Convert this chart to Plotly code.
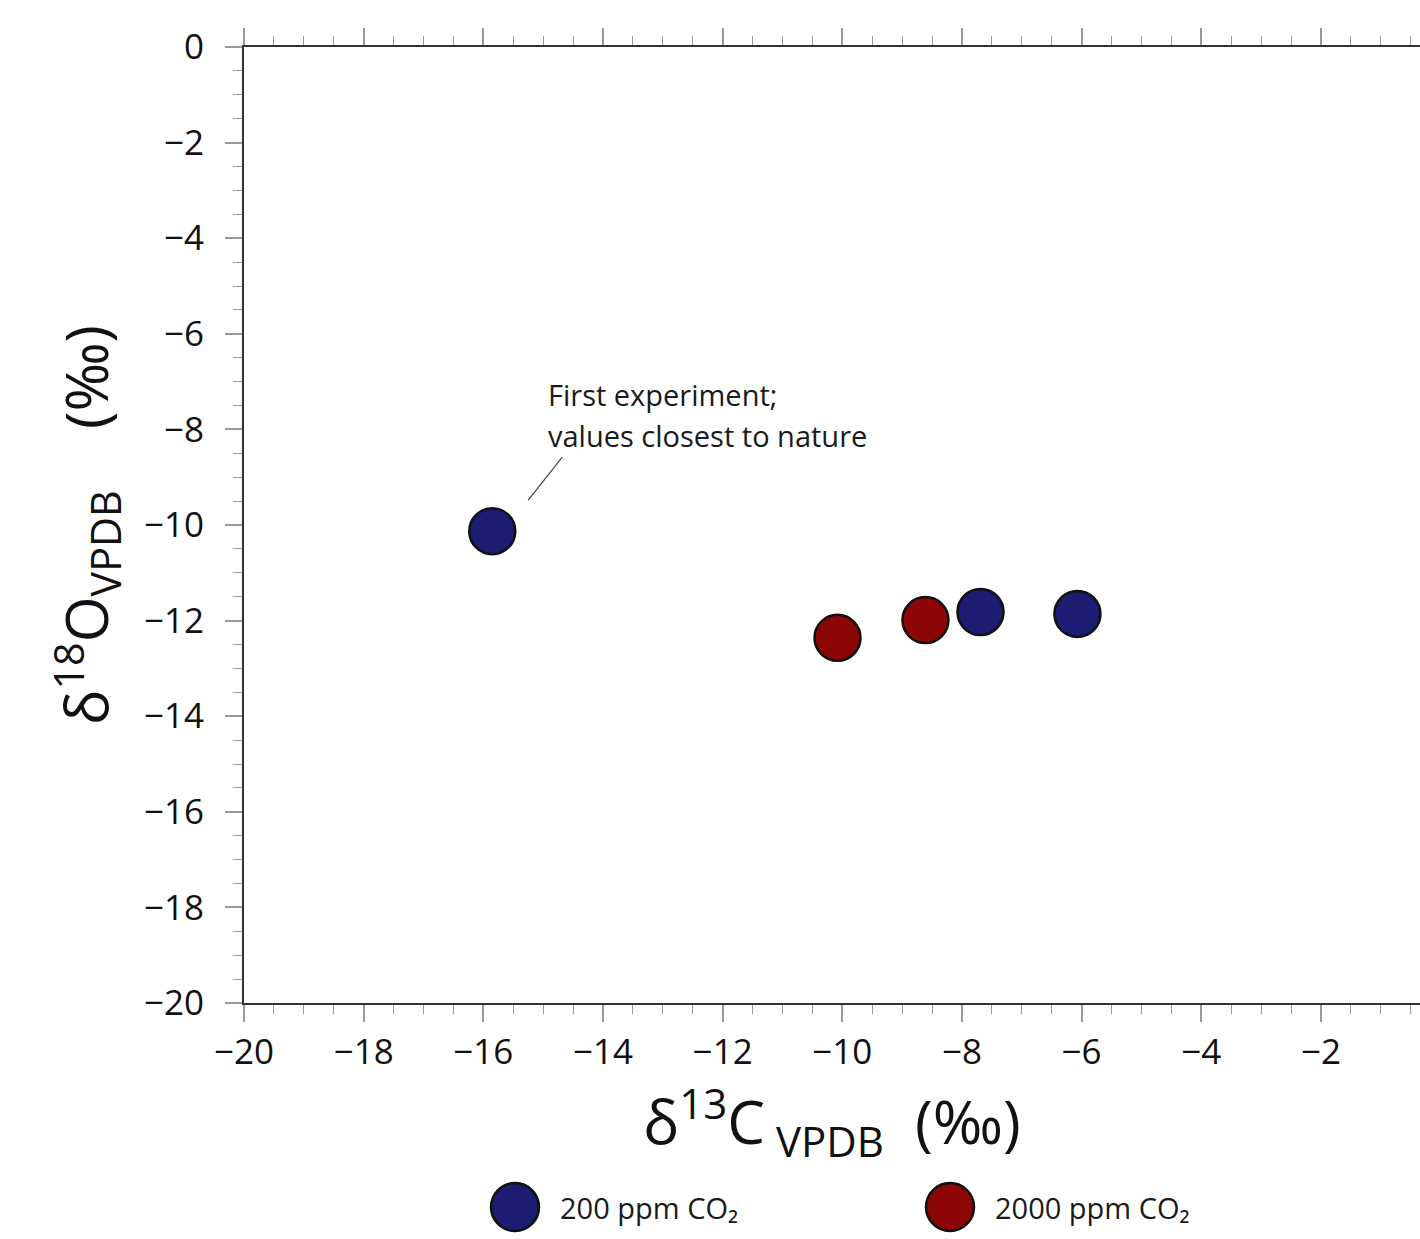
import plotly.graph_objects as go

# Data
series_names = ["200 ppm CO₂", "2000 ppm CO₂"]
series_colors = ["#1b1c72", "#8c0606"]
d13c_200 = [-15.85, -7.69, -6.07]
d18o_200 = [-10.13, -11.82, -11.86]
d13c_2000 = [-10.08, -8.61]
d18o_2000 = [-12.36, -11.99]

x_tickvals = [-20, -18, -16, -14, -12, -10, -8, -6, -4, -2, 0]
y_tickvals = [0, -2, -4, -6, -8, -10, -12, -14, -16, -18, -20]

annot_lines = ["First experiment;", "values closest to nature"]

FONT = "Open Sans"
OFF = 0  # body margin removed via post_script
W, H = 1420, 1239
L, R, T = 244 - OFF, 0, 47 - OFF
B = H - (1003 - OFF)
PX_PER_X = 59.83
plot_w = W - L - R
plot_h = H - T - B
x_end = -20 + plot_w / PX_PER_X

fig = go.Figure()
for xs, ys, name, col in [(d13c_200, d18o_200, series_names[0], series_colors[0]),
                          (d13c_2000, d18o_2000, series_names[1], series_colors[1])]:
    fig.add_trace(go.Scatter(
        x=xs, y=ys, mode="markers", name=name, showlegend=False,
        marker=dict(size=46, color=col, line=dict(color="#111111", width=2.5)),
    ))

tick_common = dict(
    ticks="outside", ticklen=17, tickwidth=1.5, tickcolor="#9a9a9a",
    showline=True, linecolor="#333333", linewidth=2,
    showgrid=False, zeroline=False,
    tickfont=dict(family=FONT, size=35, color="#111111"),
)

fig.update_xaxes(
    range=[-20, x_end], tickvals=x_tickvals, mirror="ticks",
    minor=dict(dtick=0.5, tick0=0, ticks="outside", ticklen=9, tickwidth=1.3,
               tickcolor="#9a9a9a", showgrid=False),
    title=dict(text="δ<sup>13</sup>C<sub>\u00a0VPDB</sub>\u00a0\u00a0(‰)",
               font=dict(family=FONT, size=60, color="#111111"), standoff=10),
    ticklabelstandoff=0,
    **tick_common,
)
fig.update_yaxes(
    range=[-20, 0], tickvals=y_tickvals,
    minor=dict(dtick=0.5, tick0=0, ticks="outside", ticklen=9, tickwidth=1.3,
               tickcolor="#9a9a9a", showgrid=False),
    title=dict(text="δ<sup>18</sup>O<sub>VPDB</sub>\u00a0\u00a0\u00a0\u00a0(‰)",
               font=dict(family=FONT, size=59, color="#111111"), standoff=16),
    ticklabelstandoff=14,
    **tick_common,
)

# Annotation text and leader line
fig.add_annotation(x=-14.95, y=-7.28, text=annot_lines[0], showarrow=False,
                   xanchor="left", yanchor="middle",
                   font=dict(family=FONT, size=29, color="#1a1a1a"))
fig.add_annotation(x=-14.95, y=-8.12, text=annot_lines[1], showarrow=False,
                   xanchor="left", yanchor="middle",
                   font=dict(family=FONT, size=29, color="#1a1a1a"))
fig.add_shape(type="line", xref="x", yref="y",
              x0=-15.25, y0=-9.48, x1=-14.68, y1=-8.58,
              line=dict(color="#444444", width=1.2))

# Custom legend below the plot (large circles)
leg_y = ((H - B) - (1207 - OFF)) / plot_h
for i, (name, col) in enumerate(zip(series_names, series_colors)):
    cx = [515, 950][i] - OFF
    tx = [558, 993][i] - OFF
    fig.add_shape(type="circle", xref="paper", yref="paper",
                  xsizemode="pixel", ysizemode="pixel",
                  xanchor=(cx - L) / plot_w, yanchor=leg_y,
                  x0=-24, x1=24, y0=-24, y1=24,
                  fillcolor=col, line=dict(color="#111111", width=2.5))
    fig.add_annotation(xref="paper", yref="paper", x=(tx - L) / plot_w, y=leg_y,
                       text=name, showarrow=False, xanchor="left", yanchor="middle",
                       font=dict(family=FONT, size=29, color="#1a1a1a"))

fig.update_layout(
    width=W, height=H,
    margin=dict(l=L, r=R, t=T, b=B, autoexpand=False),
    paper_bgcolor="white", plot_bgcolor="white",
    showlegend=False,
    font=dict(family=FONT),
)

fig.write_html("out.html",
               config={"displayModeBar": False},
               post_script="document.body.style.margin='0';document.body.style.overflow='hidden';")
